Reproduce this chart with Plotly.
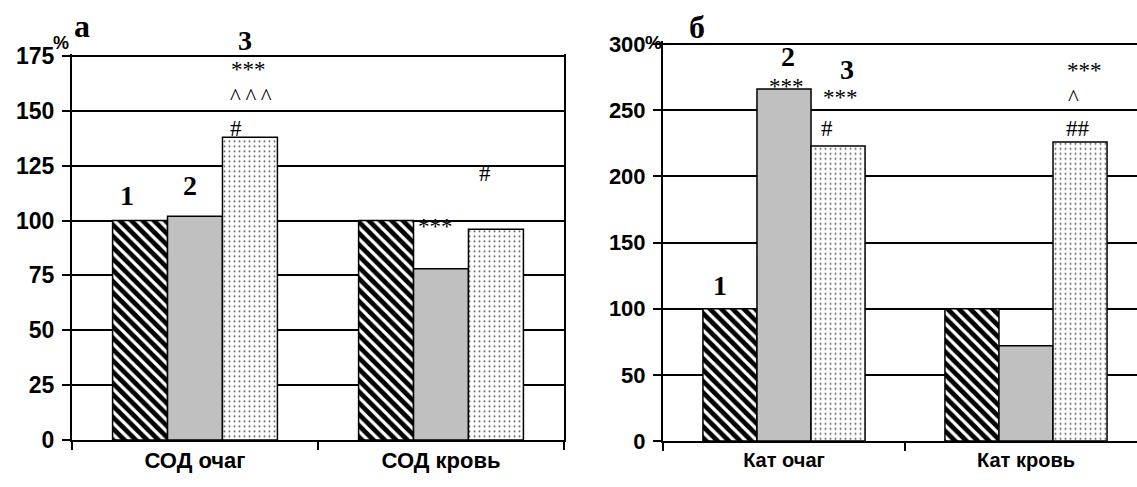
import plotly.graph_objects as go

W, H = 1137, 487

# Panel а: SOD activity, % of control
sod_categories = ["СОД очаг", "СОД кровь"]
sod_group1 = [100, 100]
sod_group2 = [102, 78]
sod_group3 = [138, 96]
sod_ticks = [0, 25, 50, 75, 100, 125, 150, 175]

# Panel б: catalase activity, % of control
cat_categories = ["Кат очаг", "Кат кровь"]
cat_group1 = [100, 100]
cat_group2 = [266, 72]
cat_group3 = [223, 226]
cat_ticks = [0, 50, 100, 150, 200, 250, 300]

THIN = "\u2009"
# Significance marks: (text, x px, y px)
sod_marks = [("***", 248, 69), (THIN.join("^^^"), 251, 96), ("#", 236, 128),
             ("***", 435, 226), ("#", 485, 173)]
cat_marks = [("***", 786, 86), ("***", 840, 98), ("#", 827, 128),
             ("***", 1084, 70), ("^", 1073, 97), ("##", 1078, 128)]
group_labels = [("1", 127, 196), ("2", 190, 185), ("3", 245, 40),
                ("1", 720, 285), ("2", 788, 56), ("3", 847, 69)]
panel_letters = [("а", 82, 26), ("б", 697, 27)]


def px(x):
    return x / W


def py(y):
    return 1 - y / H


hatch = dict(color="black",
             pattern=dict(shape="\\", fgcolor="white", bgcolor="black",
                          size=8, solidity=0.4, fillmode="replace"),
             line=dict(color="black", width=1.5))
gray = dict(color="#c0c0c0", line=dict(color="black", width=1.5))
dots = dict(color="white",
            pattern=dict(shape=".", fgcolor="#5a5a5a", bgcolor="white",
                         size=5, solidity=0.12, fillmode="replace"),
            line=dict(color="black", width=1.5))

fig = go.Figure()
for xa, ya, cats, vals in [("x", "y", sod_categories, (sod_group1, sod_group2, sod_group3)),
                           ("x2", "y2", cat_categories, (cat_group1, cat_group2, cat_group3))]:
    for v, m in zip(vals, (hatch, gray, dots)):
        fig.add_trace(go.Bar(x=cats, y=v, marker=m, xaxis=xa, yaxis=ya,
                             showlegend=False, cliponaxis=False))

SANS = "Arial, Liberation Sans, sans-serif"
SERIF = "Times New Roman, Liberation Serif, serif"


def bold(vals):
    return ["<b>%d</b>" % v for v in vals]


axis_common = dict(showline=True, linecolor="black", linewidth=2, automargin=False,
                   ticks="outside", tickcolor="black", tickwidth=1.5, ticklen=8)

fig.update_layout(
    width=W, height=H, autosize=False,
    margin=dict(l=0, r=0, t=0, b=0, pad=0, autoexpand=False),
    paper_bgcolor="white", plot_bgcolor="white",
    barmode="group", bargap=0.33, bargroupgap=0,
    xaxis=dict(domain=[px(72), px(564)], range=[-0.5, 1.5], tickson="boundaries",
               tickvals=sod_categories,
               ticktext=["<b>%s</b>" % c for c in sod_categories],
               tickfont=dict(family=SANS, size=22, color="black"),
               **axis_common),
    yaxis=dict(domain=[py(440), py(53.8)], range=[0, 176], tickvals=sod_ticks,
               ticktext=bold(sod_ticks), ticklabelstandoff=3,
               showgrid=True, gridcolor="black", gridwidth=1.5, zeroline=False,
               mirror=True, tickfont=dict(family=SANS, size=23, color="black"),
               **axis_common),
    xaxis2=dict(domain=[px(663), 1], range=[-0.5, -0.5 + 474 / 242], tickson="boundaries",
                anchor="y2", tickvals=cat_categories,
                ticktext=["<b>%s</b>" % c for c in cat_categories],
                tickfont=dict(family=SANS, size=20, color="black"),
                **axis_common),
    yaxis2=dict(domain=[py(441), py(41.35)], range=[0, 302], tickvals=cat_ticks,
                ticktext=bold(cat_ticks), anchor="x2", ticklabelstandoff=3,
                showgrid=True, gridcolor="black", gridwidth=1.5, zeroline=False,
                tickfont=dict(family=SANS, size=22, color="black"), **axis_common),
)

ann = []


def label(text, x, y, family, size):
    ann.append(dict(text=text, x=px(x), y=py(y), xref="paper", yref="paper",
                    xanchor="center", yanchor="middle", showarrow=False,
                    font=dict(family=family, size=size, color="black")))


for t, x, y in sod_marks + cat_marks:
    label(t, x, y, SERIF, 23)
for t, x, y in group_labels:
    label("<b>%s</b>" % t, x, y, SERIF, 28)
for t, x, y in panel_letters:
    label("<b>%s</b>" % t, x, y, SERIF, 32)
label("<b>%</b>", 61, 43, SANS, 18)
label("<b>%</b>", 653, 42, SANS, 19)
fig.update_layout(annotations=ann)

fig.write_html("out.html")
